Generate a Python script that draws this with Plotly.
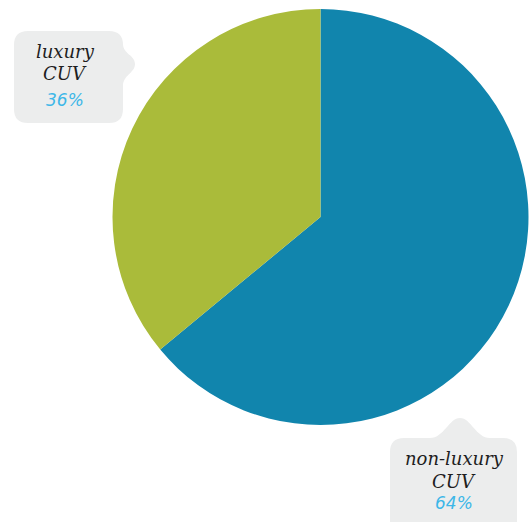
import plotly.graph_objects as go

labels = ["non-luxury CUV", "luxury CUV"]
values = [64, 36]
colors = ["#1185ad", "#aabb3a"]
label_lines = [["non-luxury", "CUV"], ["luxury", "CUV"]]
pct_text = ["64%", "36%"]

W, H = 530, 522

def px(x, y):
    return f"{x / W:.5f},{1 - y / H:.5f}"

fig = go.Figure(go.Pie(
    labels=labels, values=values, sort=False, direction="clockwise", rotation=0,
    marker=dict(colors=colors, line=dict(width=0)), textinfo="none", hoverinfo="label+percent",
    showlegend=False,
    domain=dict(x=[112.5 / W, 528.5 / W], y=[1 - 425 / H, 1 - 9 / H]),
))

r = 14
box1 = (f"M {px(14+r,31)} L {px(123-r,31)} Q {px(123,31)} {px(123,31+r)} L {px(123,44)} "
        f"C {px(123,54)} {px(135,55)} {px(135,64)} C {px(135,73)} {px(123,75)} {px(123,86)} "
        f"L {px(123,123-r)} Q {px(123,123)} {px(123-r,123)} L {px(14+r,123)} Q {px(14,123)} {px(14,123-r)} "
        f"L {px(14,31+r)} Q {px(14,31)} {px(14+r,31)} Z")
box2 = (f"M {px(390+r,438)} L {px(430,438)} C {px(444,438)} {px(449,418)} {px(460,418)} "
        f"C {px(471,418)} {px(476,438)} {px(490,438)} L {px(517-r,438)} Q {px(517,438)} {px(517,438+r)} "
        f"L {px(517,535)} L {px(390,535)} L {px(390,438+r)} Q {px(390,438)} {px(390+r,438)} Z")

shapes = [
    dict(type="path", path=box1, xref="paper", yref="paper", fillcolor="#eceded", line=dict(width=0), layer="below"),
    dict(type="path", path=box2, xref="paper", yref="paper", fillcolor="#eceded", line=dict(width=0), layer="below"),
]

anns = []
positions = [(454, [458, 481], 503), (65, [51, 74], 100)]
for i, (cx, ys, py) in enumerate(positions):
    for line, y in zip(label_lines[i], ys):
        anns.append(dict(x=cx / W, y=1 - y / H, xref="paper", yref="paper", text=f"<i>{line}</i>",
                         showarrow=False, font=dict(family="DejaVu Serif", size=18, color="#1e1e1e"),
                         xanchor="center", yanchor="middle"))
    anns.append(dict(x=cx / W, y=1 - py / H, xref="paper", yref="paper", text=f"<i>{pct_text[i]}</i>",
                     showarrow=False, font=dict(family="DejaVu Sans", size=17, color="#3db7e8"),
                     xanchor="center", yanchor="middle"))

fig.update_layout(width=W, height=H, margin=dict(l=0, r=0, t=0, b=0),
                  paper_bgcolor="white", plot_bgcolor="white", shapes=shapes, annotations=anns)

fig.write_html("out.html")
